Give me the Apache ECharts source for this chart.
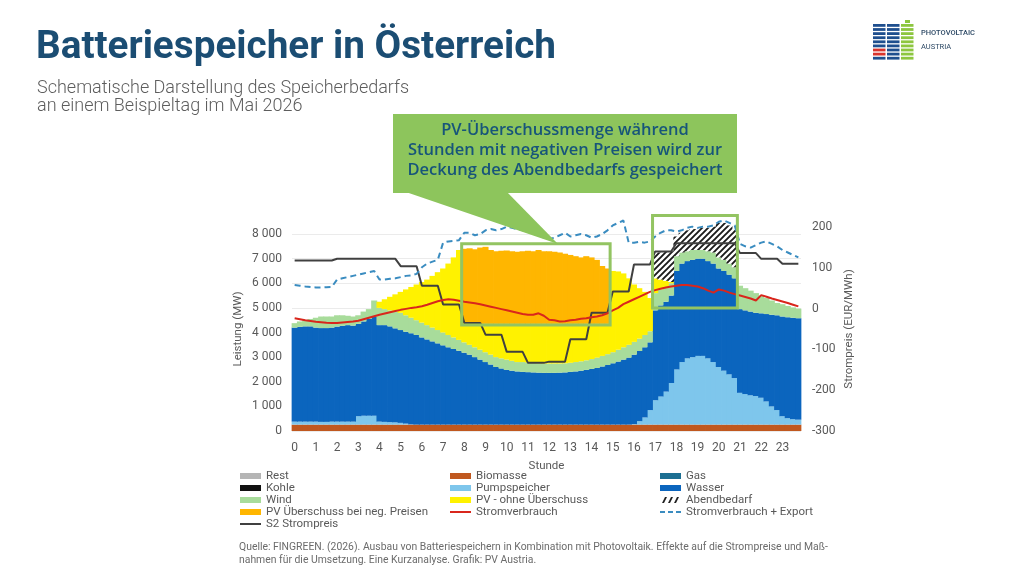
<!DOCTYPE html>
<html>
<head>
<meta charset="utf-8">
<script src="https://cdn.jsdelivr.net/npm/echarts@6/dist/echarts.min.js"></script>
<style>
  html, body { margin: 0; padding: 0; background: #fff; }
  #chart { width: 1024px; height: 576px; }
</style>
</head>
<body>
<div id="chart"></div>
<script>
// Stunden und Viertelstunden
const stunden = ['0','1','2','3','4','5','6','7','8','9','10','11','12','13','14','15','16','17','18','19','20','21','22','23'];
const viertel = ['00','15','30','45'];

// Erzeugung in MW, je Viertelstunde (obere Kante der jeweiligen Schicht, kumuliert)
const biomasse = [
  260,260,260,260,260,260,260,260,260,260,260,260,260,260,260,260,260,260,260,260,260,260,260,260,
  260,260,260,260,260,260,260,260,260,260,260,260,260,260,260,260,260,260,260,260,260,260,260,260,
  260,260,260,260,260,260,260,260,260,260,260,260,260,260,260,260,260,260,260,260,260,260,260,260,
  260,260,260,260,260,260,260,260,260,260,260,260,260,260,260,260,260,260,260,260,260,260,260,260
];
const pumpspeicherOben = [
  380,380,380,380, 380,370,370,380, 380,380,380,380, 600,620,620,620,
  380,370,360,350, 330,300,270,260, 260,260,260,260, 260,260,260,260,
  260,260,260,260, 260,260,260,260, 260,260,260,260, 260,260,260,260,
  260,260,260,260, 260,260,260,260, 260,260,260,260, 260,260,260,260,
  280,400,550,850, 1250,1400,1600,1950, 2500,2800,2950,3000, 3050,3050,2950,2800,
  2600,2450,2300,2150, 1550,1500,1450,1420, 1350,1200,1000,850, 600,520,480,460
];
const wasserOben = [
  4200,4230,4250,4250, 4200,4180,4180,4200, 4240,4270,4300,4280, 4350,4450,4550,4650,
  4300,4300,4250,4170, 4100,4030,3970,3900, 3800,3720,3640,3560, 3480,3400,3330,3260,
  3180,3100,3000,2900, 2800,2700,2600,2540, 2480,2450,2420,2400, 2390,2380,2370,2360,
  2360,2360,2370,2380, 2400,2420,2450,2480, 2520,2560,2620,2680, 2750,2820,2900,2980,
  3100,3250,3400,3600, 4900,5100,5250,5500, 6500,6800,6900,6950, 7000,7000,6900,6800,
  6600,6500,6350,6200, 4950,4900,4850,4800, 4780,4750,4720,4700, 4650,4620,4600,4580
];
const windOben = [
  4380,4450,4500,4550, 4600,4650,4650,4650, 4700,4700,4680,4650, 4700,4850,4950,5300,
  5000,4950,4900,4850, 4800,4700,4600,4500, 4400,4300,4200,4100, 4000,3900,3800,3700,
  3600,3500,3400,3300, 3200,3100,3000,2950, 2900,2850,2800,2800, 2780,2760,2750,2740,
  2740,2740,2740,2750, 2770,2800,2830,2870, 2920,2980,3050,3120, 3200,3300,3400,3500,
  3620,3750,3900,4050, 5600,5750,5850,6000, 7100,7250,7300,7350, 7350,7350,7300,7250,
  7050,6950,6800,6650, 5900,5800,5700,5600, 5500,5400,5300,5200, 5150,5080,5020,4970
];
const pvOben = [
  null,null,null,null, null,null,null,null, null,null,null,null, null,null,null,null,
  5250,5350,5450,5550, 5650,5750,5850,5950, 6050,6150,6300,6450, 6600,6800,7050,7350,
  4350,4350,4350,4350, 4350,4350,4350,4350, 4350,4350,4350,4350, 4350,4350,4350,4350,
  4350,4350,4350,4350, 4350,4350,4350,4350, 4350,4350,4350,4350, 6500,6480,6400,6200,
  5950,5800,5650,5400, 6200,6150,6100,6050, null,null,null,null, null,null,null,null,
  null,null,null,null, null,null,null,null, null,null,null,null, null,null,null,null
];
const ueberschussOben = [
  null,null,null,null, null,null,null,null, null,null,null,null, null,null,null,null,
  null,null,null,null, null,null,null,null, null,null,null,null, null,null,null,null,
  7400,7420,7380,7450, 7480,7350,7300,7320, 7330,7300,7280,7300, 7320,7300,7350,7300,
  7300,7280,7250,7200, 7150,7100,7050,7100, 7050,6950,6700,6600, null,null,null,null,
  null,null,null,null, null,null,null,null, null,null,null,null, null,null,null,null,
  null,null,null,null, null,null,null,null, null,null,null,null, null,null,null,null
];
const abendOben = [
  null,null,null,null, null,null,null,null, null,null,null,null, null,null,null,null,
  null,null,null,null, null,null,null,null, null,null,null,null, null,null,null,null,
  null,null,null,null, null,null,null,null, null,null,null,null, null,null,null,null,
  null,null,null,null, null,null,null,null, null,null,null,null, null,null,null,null,
  null,null,null,null, 7250,7250,7280,7300, 7900,8050,8150,8200, 8200,8250,8250,8300,
  8450,8450,8350,8200, null,null,null,null, null,null,null,null, null,null,null,null
];

// Verbrauch in MW
const stromverbrauch = [
  4580,4540,4500,4470, 4440,4420,4400,4390, 4390,4410,4430,4450, 4480,4540,4600,4660,
  4720,4770,4820,4870, 4920,4960,5000,5030, 5070,5130,5200,5270, 5320,5350,5330,5290,
  5250,5220,5190,5150, 5100,5050,5000,4950, 4900,4850,4800,4750, 4720,4720,4780,4680,
  4520,4500,4450,4460, 4500,4520,4560,4580, 4620,4650,4700,4780, 4900,5000,5150,5250,
  5350,5450,5550,5650, 5720,5780,5830,5870, 5900,5930,5930,5900, 5870,5800,5700,5620,
  5750,5700,5620,5560, 5500,5440,5380,5300, 5520,5450,5380,5320, 5260,5200,5130,5060
];
const verbrauchExport = [
  5930,5900,5870,5850, 5830,5830,5840,5850, 6150,6200,6250,6300, 6350,6400,6450,6500,
  6150,6150,6180,6200, 6250,6300,6320,6380, 6650,6800,6880,6950, 7650,7700,7720,7750,
  8050,8050,7950,8000, 8150,8200,8150,8200, 8300,8250,8200,8150, 8100,8050,7950,7850,
  7800,7850,7950,8050, 7900,7950,8000,7950, 7850,7900,8000,8150, 8350,8450,8550,7650,
  7650,7680,7650,7700, 7900,8050,8150,8150, 8100,8150,8250,8300, 8250,8300,8300,8350,
  8500,8550,8450,8350, 7600,7500,7450,7550, 7650,7700,7600,7500, 7350,7250,7150,7050
];
// S2 Strompreis in EUR/MWh, je Stunde
const s2Strompreis = [118,118,122,122,122,104,56,10,-35,-64,-106,-133,-130,-75,-10,42,108,140,160,160,160,136,122,110];

// Markierte Bereiche (Viertelstunden-Index, MW)
const rahmen = [
  { von: 32, bis: 59, oben: 7600, unten: 4300 },
  { von: 68, bis: 83, oben: 8750, unten: 5000 }
];

const kategorien = stunden.flatMap(h => viertel.map(q => h + ':' + q));
const s2Viertel = s2Strompreis.flatMap(p => [p, p, p, p]);

const pvObenVoll = pvOben.map((v, i) => (v == null ? windOben[i] : v));
function schicht(oben, basis) {
  return oben.map((t, i) => {
    if (t == null) return null;
    const d = t - basis[i];
    return d > 0 ? d : null;
  });
}

function schraffur() {
  const c = document.createElement('canvas');
  c.width = 6; c.height = 6;
  const ctx = c.getContext('2d');
  ctx.fillStyle = '#ffffff';
  ctx.fillRect(0, 0, 6, 6);
  ctx.strokeStyle = '#1a1a1a';
  ctx.lineWidth = 1.9;
  ctx.beginPath();
  ctx.moveTo(0, 6); ctx.lineTo(6, 0);
  ctx.moveTo(-1, 1); ctx.lineTo(1, -1);
  ctx.moveTo(5, 7); ctx.lineTo(7, 5);
  ctx.stroke();
  return c;
}

const grau = '#595959';
// etwas breiter als die Kategorie, damit keine hellen Fugen zwischen den Viertelstunden entstehen
const balkenBreite = '114%';
function balken(name, farbe, daten) {
  return {
    name, type: 'bar', stack: 'erzeugung', data: daten, clip: false,
    barWidth: balkenBreite, barCategoryGap: '0%', z: 2,
    itemStyle: { color: farbe, borderWidth: 0 }
  };
}
function linie(name, farbe, daten, achse, art) {
  return {
    name, type: 'line', data: daten, yAxisIndex: achse, symbol: 'none', clip: false, z: 5,
    itemStyle: { color: farbe, borderWidth: 0 },
    lineStyle: { color: farbe, width: 2, type: art || 'solid' }
  };
}

const rect = 'rect';
const strich = 'path://M0,0H21V2H0Z';
const gestrichelt = 'path://M0,0H5V2H0ZM8,0H13V2H8ZM16,0H21V2H16Z';
const schraeg = 'path://M0,6L3,0L5,0L2,6ZM6,6L9,0L11,0L8,6ZM12,6L15,0L17,0L14,6Z';

function legende(left, eintraege) {
  return {
    orient: 'vertical', left, top: 470, padding: 0, itemGap: 0,
    itemWidth: 21, itemHeight: 6, symbolKeepAspect: true, selectedMode: false,
    textStyle: { color: grau, fontSize: 11.5, fontFamily: 'Roboto', lineHeight: 12 },
    data: eintraege
  };
}

const chart = echarts.init(document.getElementById('chart'));

const option = {
  animation: false,
  backgroundColor: '#ffffff',
  grid: { left: 292, right: 223, top: 227, bottom: 145, outerBoundsMode: 'none' },
  legend: [
    legende(240, [
      { name: 'Rest', icon: rect },
      { name: 'Kohle', icon: rect },
      { name: 'Wind', icon: rect },
      { name: 'PV Überschuss bei neg. Preisen', icon: rect },
      { name: 'S2 Strompreis', icon: strich }
    ]),
    legende(450, [
      { name: 'Biomasse', icon: rect },
      { name: 'Pumpspeicher', icon: rect },
      { name: 'PV - ohne Überschuss', icon: rect },
      { name: 'Stromverbrauch', icon: strich }
    ]),
    legende(660, [
      { name: 'Gas', icon: rect },
      { name: 'Wasser', icon: rect },
      { name: 'Abendbedarf', icon: schraeg, itemStyle: { color: '#222222', borderWidth: 0 } },
      { name: 'Stromverbrauch + Export', icon: gestrichelt }
    ])
  ],
  xAxis: {
    type: 'category', data: kategorien, boundaryGap: true,
    name: 'Stunde', nameLocation: 'middle', nameGap: 29,
    nameTextStyle: { color: grau, fontSize: 11.5, fontFamily: 'Roboto' },
    axisLine: { show: false }, axisTick: { show: false }, splitLine: { show: false },
    axisLabel: { interval: 3, margin: 11, color: grau, fontSize: 12, fontFamily: 'Roboto',
      formatter: v => v.split(':')[0] }
  },
  yAxis: [
    {
      type: 'value', min: 0, max: 8285, interval: 1000, position: 'left',
      name: 'Leistung (MW)', nameLocation: 'middle', nameGap: 48, nameRotate: 90,
      nameTextStyle: { color: grau, fontSize: 11.5, fontFamily: 'Roboto' },
      axisLine: { show: false }, axisTick: { show: false },
      splitLine: { show: true, showMaxLine: false, lineStyle: { color: '#ebebeb', width: 1 } },
      axisLabel: { margin: 10, color: grau, fontSize: 12, fontFamily: 'Roboto', showMaxLabel: false,
        formatter: v => (v % 1000 !== 0 ? '' : (v === 0 ? '0' : (v / 1000) + ' 000')) }
    },
    {
      type: 'value', min: -300, max: 200, interval: 100, position: 'right',
      name: 'Strompreis (EUR/MWh)', nameLocation: 'middle', nameGap: 42, nameRotate: 90,
      nameTextStyle: { color: grau, fontSize: 11.5, fontFamily: 'Roboto' },
      axisLine: { show: false }, axisTick: { show: false }, splitLine: { show: false },
      axisLabel: { margin: 11, color: grau, fontSize: 12, fontFamily: 'Roboto' }
    }
  ],
  series: [
    balken('Rest', '#b5b5b5', []),
    balken('Kohle', '#111111', []),
    balken('Biomasse', '#c0581f', biomasse),
    balken('Gas', '#1d6f92', []),
    balken('Pumpspeicher', '#7ec6ec', schicht(pumpspeicherOben, biomasse)),
    balken('Wasser', '#0b65be', schicht(wasserOben, pumpspeicherOben)),
    balken('Wind', '#a8dc9b', schicht(windOben, wasserOben)),
    balken('PV - ohne Überschuss', '#fff200', schicht(pvObenVoll, windOben)),
    balken('PV Überschuss bei neg. Preisen', '#ffb600', schicht(ueberschussOben, pvObenVoll)),
    {
      name: 'Abendbedarf', type: 'bar', stack: 'erzeugung', clip: false, z: 2,
      data: schicht(abendOben, pvObenVoll), barWidth: balkenBreite, barCategoryGap: '0%',
      itemStyle: { color: { image: schraffur(), repeat: 'repeat' }, borderWidth: 0 }
    },
    linie('S2 Strompreis', '#404040', s2Viertel, 1),
    linie('Stromverbrauch', '#d9261c', stromverbrauch, 0),
    linie('Stromverbrauch + Export', '#3a8cc0', verbrauchExport, 0, [6, 4])
  ]
};

chart.setOption(option);

// Texte, Logo, Sprechblase und Rahmen
const punkt = (i, v) => chart.convertToPixel({ xAxisIndex: 0, yAxisIndex: 0 }, [i, v]);
const breite = punkt(1, 0)[0] - punkt(0, 0)[0];
const gruen = '#8dc55c';

const grafik = [
  { type: 'text', x: 36, y: 48, z: 100,
    style: { text: 'Batteriespeicher in Österreich', fill: '#1b4d73', fontSize: 38.7, fontWeight: 'bold',
      fontFamily: 'Roboto', textVerticalAlign: 'middle' } },
  { type: 'text', x: 37, y: 97.5, z: 100,
    style: { text: 'Schematische Darstellung des Speicherbedarfs\nan einem Beispieltag im Mai 2026',
      fill: '#5d5d5d', fontSize: 18, fontFamily: 'Roboto', fontWeight: 300, lineHeight: 18.5,
      textVerticalAlign: 'middle' } },
  { type: 'text', x: 239, y: 553.5, z: 100,
    style: { text: 'Quelle: FINGREEN. (2026). Ausbau von Batteriespeichern in Kombination mit Photovoltaik. Effekte auf die Strompreise und Maß-\nnahmen für die Umsetzung. Eine Kurzanalyse. Grafik: PV Austria.',
      fill: '#6b6b6b', fontSize: 10.4, fontFamily: 'Roboto', lineHeight: 13, textVerticalAlign: 'middle' } },
  // Sprechblase
  { type: 'polygon', z: 100, shape: { points: [[400, 190], [505, 190], [558, 244]] }, style: { fill: gruen } },
  { type: 'rect', z: 100, shape: { x: 393, y: 114, width: 344, height: 79 }, style: { fill: gruen } },
  { type: 'text', x: 565, y: 150, z: 101,
    style: { text: 'PV-Überschussmenge während\nStunden mit negativen Preisen wird zur\nDeckung des Abendbedarfs gespeichert',
      fill: '#17557a', fontSize: 16.5, fontWeight: 600, fontFamily: 'Open Sans', lineHeight: 20,
      textAlign: 'center', textVerticalAlign: 'middle' } },
  // Logo
  { type: 'text', x: 921, y: 33, z: 100,
    style: { text: 'PHOTOVOLTAIC', fill: '#2e4a66', fontSize: 7.5, fontWeight: 500, fontFamily: 'Roboto', textVerticalAlign: 'middle' } },
  { type: 'text', x: 921, y: 47, z: 100,
    style: { text: 'AUSTRIA', fill: '#2e4a66', fontSize: 7.5, fontFamily: 'Roboto', textVerticalAlign: 'middle' } },
  { type: 'rect', z: 100, shape: { x: 905, y: 20, width: 5, height: 3 }, style: { fill: '#8dc63f' } }
];
for (let r = 0; r < 9; r++) {
  const y = 24 + r * 4.1;
  grafik.push({ type: 'rect', z: 100, shape: { x: 873, y, width: 12.5, height: 2.8 },
    style: { fill: (r === 6 || r === 7) ? '#d8342c' : '#1f4f8e' } });
  grafik.push({ type: 'rect', z: 100, shape: { x: 887, y, width: 12.5, height: 2.8 }, style: { fill: '#1f4f8e' } });
  grafik.push({ type: 'rect', z: 100, shape: { x: 901, y, width: 12.5, height: 2.8 }, style: { fill: '#8dc63f' } });
}
rahmen.forEach(b => {
  const a = punkt(b.von, b.oben);
  const c = punkt(b.bis, b.unten);
  const x0 = a[0] - breite / 2;
  const x1 = c[0] + breite / 2;
  grafik.push({ type: 'rect', z: 90, shape: { x: x0, y: a[1], width: x1 - x0, height: c[1] - a[1] },
    style: { fill: 'none', stroke: '#93c462', lineWidth: 3 } });
});

chart.setOption({ graphic: grafik });
</script>
</body>
</html>
